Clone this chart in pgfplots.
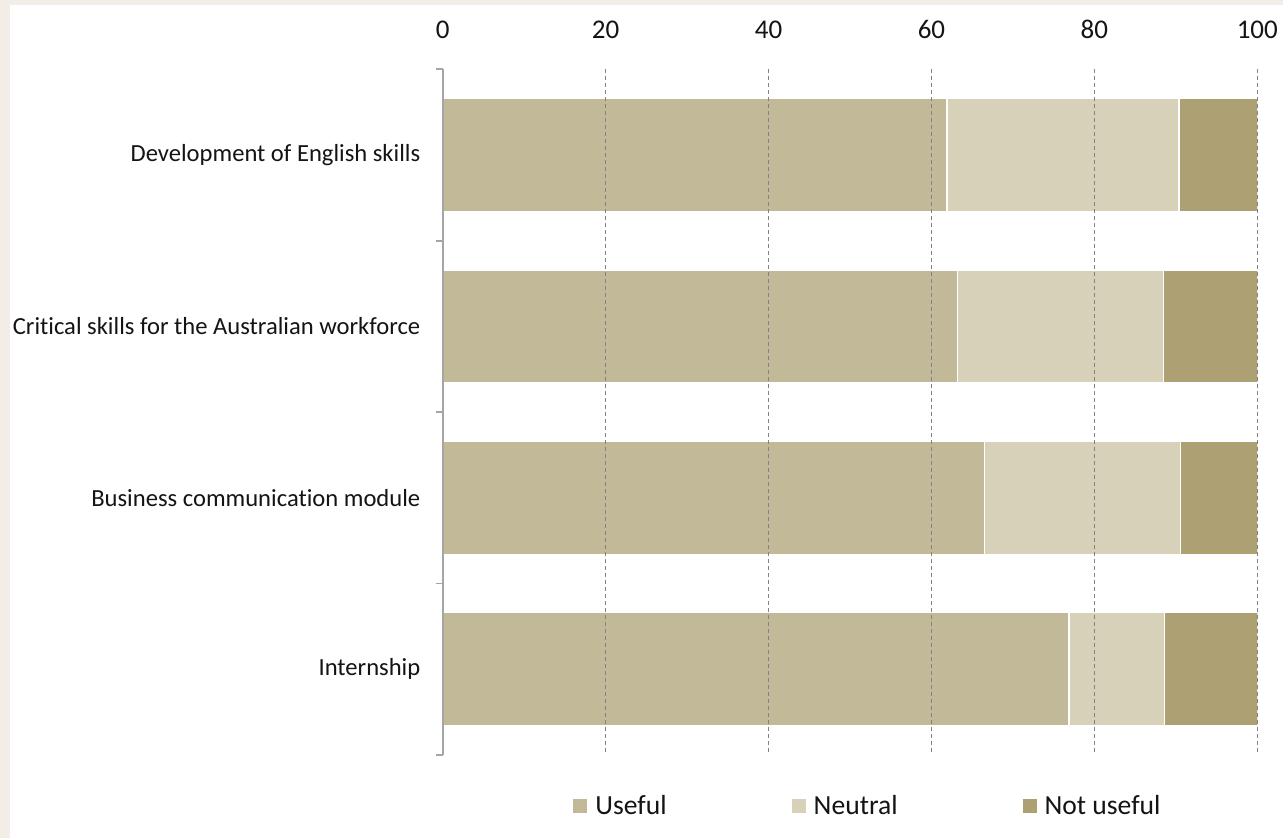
\documentclass[border=0pt]{standalone}
\usepackage{fontspec}
\setmainfont[Ligatures={NoCommon}]{Carlito}
\usepackage{pgfplots}
\pgfplotsset{compat=1.18}

\definecolor{framebg}{RGB}{242,237,231}
\definecolor{useful}{RGB}{194,185,152}
\definecolor{neutral}{RGB}{215,209,186}
\definecolor{notuseful}{RGB}{173,161,116}
\definecolor{gridgray}{RGB}{130,130,130}
\definecolor{axisgray}{RGB}{165,165,165}
\definecolor{labeltext}{RGB}{20,20,20}

\begin{document}
\begin{tikzpicture}[x=1pt,y=1pt]
% page background with its beige margin
\fill[framebg] (0,0) rectangle (641.5,419);
\fill[white] (5,0) rectangle (641.5,416.5);
\begin{axis}[
  at={(221.35pt,41.5pt)}, anchor=south west,
  scale only axis, width=407.3pt, height=342.85pt,
  xbar stacked, bar width=0.66,
  xmin=0, xmax=100, ymin=-0.5, ymax=3.5, y dir=reverse,
  axis on top,
  axis x line*=top, x axis line style={draw=none},
  axis y line*=left, y axis line style={axisgray, line width=0.8pt},
  xtick={0,20,40,60,80,100},
  xmajorgrids, major x grid style={gridgray, line width=0.6pt, dash pattern=on 2pt off 1.5pt},
  ytick={0,1,2,3},
  yticklabels={Development of English skills, Critical skills for the Australian workforce, Business communication module, Internship},
  minor ytick={-0.5,0.5,1.5,2.5,3.5},
  tick align=outside, major tick length=0pt, minor tick length=3.5pt,
  minor tick style={axisgray, line width=0.8pt}, major tick style={draw=none},
  /pgf/number format/assume math mode=true,
  xticklabel style={font=\fontsize{13.5}{16}\selectfont, text=labeltext, inner sep=0pt, yshift=15pt},
  yticklabel style={font=\fontsize{12.3}{14}\selectfont, text=labeltext, inner sep=0pt, xshift=-11pt},
  legend style={at={(axis description cs:0.16,-0.0744)}, anchor=west, draw=none, fill=none,
    inner sep=0pt, font=\fontsize{13.8}{16}\selectfont, text=labeltext,
    /tikz/every odd column/.append style={column sep=2pt},
    /tikz/every even column/.append style={column sep=60.5pt}},
  legend columns=3,
  legend image code/.code={\fill[#1, draw=none] (0pt,-3.5pt) rectangle (7pt,3.5pt);},
]
\addplot[fill=useful, draw=white, line width=0.7pt]
  coordinates {(61.9,0) (63.2,1) (66.5,2) (76.9,3)};
\addplot[fill=neutral, draw=white, line width=0.7pt]
  coordinates {(28.5,0) (25.3,1) (24.1,2) (11.7,3)};
\addplot[fill=notuseful, draw=white, line width=0.7pt]
  coordinates {(9.6,0) (11.5,1) (9.4,2) (11.4,3)};
\legend{Useful, Neutral, Not useful}
\end{axis}
\end{tikzpicture}
\end{document}
